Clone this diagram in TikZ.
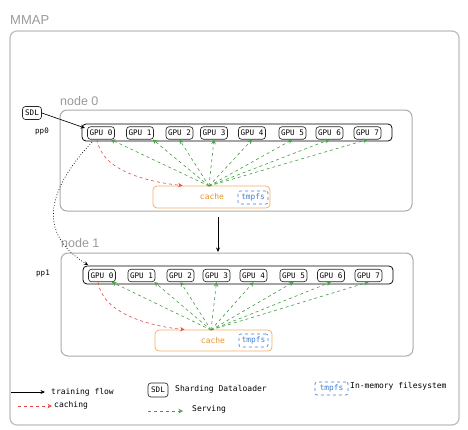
\documentclass[tikz,border=0pt]{standalone}
\usepackage{fontspec}
\setmainfont{Liberation Sans}
\setmonofont{DejaVu Sans Mono}
\usetikzlibrary{arrows.meta,calc}
\definecolor{outergray}{HTML}{BDBDBD}
\definecolor{boxgray}{HTML}{ABABAB}
\definecolor{labgray}{HTML}{9A9A9A}
\definecolor{cacheorange}{HTML}{F3B06A}
\definecolor{cachetext}{HTML}{E8912D}
\definecolor{tmpblue}{HTML}{3D7FD9}
\definecolor{servegreen}{HTML}{3E9F3E}
\definecolor{cachered}{HTML}{E04848}
\tikzset{
  mono/.style={font=\ttfamily\fontsize{7.6}{9}\selectfont},
  legtext/.style={font=\ttfamily\fontsize{8}{10}\selectfont, anchor=west, inner sep=0},
  gpubox/.style={draw=black!85, line width=0.65pt, rounded corners=3pt, inner sep=0,
     minimum width=27pt, minimum height=12.5pt, mono},
  barbox/.style={draw=black, line width=0.75pt, rounded corners=4pt, inner sep=0},
  nodebox/.style={draw=boxgray, line width=1pt, rounded corners=7pt, inner sep=0},
  outerbox/.style={draw=outergray, line width=1.2pt, rounded corners=7pt, inner sep=0},
  cachebox/.style={draw=cacheorange, line width=0.8pt, rounded corners=4pt, inner sep=0},
  tmpbox/.style={draw=tmpblue, dashed, line width=0.65pt, rounded corners=2pt, inner sep=0,
     text=tmpblue, font=\ttfamily\fontsize{7.8}{9}\selectfont},
  sdlbox/.style={draw=black!85, line width=0.65pt, rounded corners=3pt, inner sep=0,
     minimum width=19pt, minimum height=13pt, mono},
  grouplabel/.style={text=labgray, anchor=west, inner sep=0},
  serve/.style={draw=servegreen, dashed, line width=0.6pt, -{Stealth[open,length=4.5pt,width=4.5pt]}},
  cacheflow/.style={draw=cachered, dashed, line width=0.6pt, -{Stealth[open,length=4.5pt,width=4.5pt]}},
  trainflow/.style={draw=black, line width=0.65pt, -{Stealth[length=4.5pt,width=4pt]}},
  ppl/.style={font=\ttfamily\fontsize{7.5}{8}\selectfont, inner sep=0},
}
\begin{document}
\begin{tikzpicture}[x=1pt,y=-1pt]
\useasboundingbox (0,0) rectangle (468,429);

% outer MMAP box
\node[grouplabel, font=\fontsize{13}{15}\selectfont] (mmaplab) at (10,20) {MMAP};
\node[outerbox, minimum width=449pt, minimum height=394pt] (mmap) at (234.5,228) {};

% node 0
\node[grouplabel, font=\fontsize{12.5}{14}\selectfont] (n0lab) at (60,101) {node 0};
\node[nodebox, minimum width=352pt, minimum height=101pt] (n0) at (236,160.5) {};
\node[barbox, minimum width=310pt, minimum height=17pt] (bar0) at (237,132.5) {};
\foreach \i/\x in {0/101,1/140,2/179.5,3/214,4/252,5/292.5,6/329.5,7/367.5}
  \node[gpubox] (ga\i) at (\x,133) {GPU \i};
\node[cachebox, minimum width=117pt, minimum height=22pt] (cache0) at (211.5,197) {};
\node[text=cachetext, font=\ttfamily\fontsize{8}{9}\selectfont, inner sep=0] (cache0t) at (212,197) {cache};
\node[tmpbox, minimum width=30pt, minimum height=13pt] (tmp0) at (253,197.5) {tmpfs};

% node 1
\node[grouplabel, font=\fontsize{12.5}{14}\selectfont] (n1lab) at (61,243) {node 1};
\node[nodebox, minimum width=352pt, minimum height=103pt] (n1) at (237,304.5) {};
\node[barbox, minimum width=310pt, minimum height=18pt] (bar1) at (238,275) {};
\foreach \i/\x in {0/102,1/141.5,2/180.5,3/216.5,4/253.5,5/293.5,6/331,7/368.5}
  \node[gpubox] (gb\i) at (\x,275.5) {GPU \i};
\node[cachebox, minimum width=117pt, minimum height=21pt] (cache1) at (213.5,340.5) {};
\node[text=cachetext, font=\ttfamily\fontsize{8}{9}\selectfont, inner sep=0] (cache1t) at (213,341) {cache};
\node[tmpbox, minimum width=29pt, minimum height=13pt] (tmp1) at (253.5,340.5) {tmpfs};

% SDL and pp labels
\node[sdlbox] (sdl) at (32,113) {SDL};
\node[ppl] (pp0) at (42,131) {pp0};
\node[ppl] (pp1) at (43,274) {pp1};

% coordinates
\coordinate (sdlend) at (85,128);
\coordinate (c0top) at (209,186);
\coordinate (c1top) at (211,330);
\coordinate (n0out) at (218,217);
\coordinate (n1in) at (218,252);
\coordinate (dotstart) at (92,142);
\coordinate (dotend) at (88,265);

% SDL arrow
\draw[trainflow] (sdl.east) -- (sdlend);

% serving arrows node 0
\draw[serve] (c0top) -- ($(ga0.south east)+(-4,0)$);
\draw[serve] (c0top) -- ($(ga1.south east)+(-1,0)$);
\foreach \i in {2,...,7} \draw[serve] (c0top) -- (ga\i.south);
% caching arrow node 0
\draw[cacheflow] ($(ga0.south)+(-4,0)$) .. controls (102,172) and (150,182) .. ($(cache0.north west)+(30,0)$);

% serving arrows node 1
\draw[serve] (c1top) -- ($(gb0.south east)+(-4,0)$);
\draw[serve] (c1top) -- ($(gb1.south east)+(-1,0)$);
\foreach \i in {2,...,7} \draw[serve] (c1top) -- (gb\i.south);
% caching arrow node 1
\draw[cacheflow] ($(gb0.south)+(-4,0)$) .. controls (103,314) and (150,326) .. ($(cache1.north west)+(30,0)$);

% training flow between nodes
\draw[trainflow] (n0out) -- (n1in);
% dotted pp arrow
\draw[black, line width=0.75pt, dotted, -{Stealth[open,length=4pt,width=4pt]}] (dotstart) .. controls (38,200) and (45,238) .. (dotend);

% legend
\coordinate (lta) at (11,392);
\coordinate (ltb) at (45,392);
\draw[trainflow] (lta) -- (ltb);
\node[legtext] (ltt) at (51,392) {training flow};
\coordinate (lca) at (18,406);
\coordinate (lcb) at (52,406);
\draw[cacheflow] (lca) -- (lcb);
\node[legtext] (lct) at (54,405) {caching};
\node[sdlbox, minimum width=20pt, minimum height=14pt] (lsdl) at (158,390) {SDL};
\node[legtext] (lsdlt) at (175,389) {Sharding Dataloader};
\coordinate (lsa) at (148,411);
\coordinate (lsb) at (183,411);
\draw[serve] (lsa) -- (lsb);
\node[legtext] (lst) at (192,409) {Serving};
\node[tmpbox, minimum width=33pt, minimum height=13pt] (ltmp) at (331.5,388.5) {tmpfs};
\node[legtext] (ltmpt) at (350,386) {In-memory filesystem};
\end{tikzpicture}
\end{document}
